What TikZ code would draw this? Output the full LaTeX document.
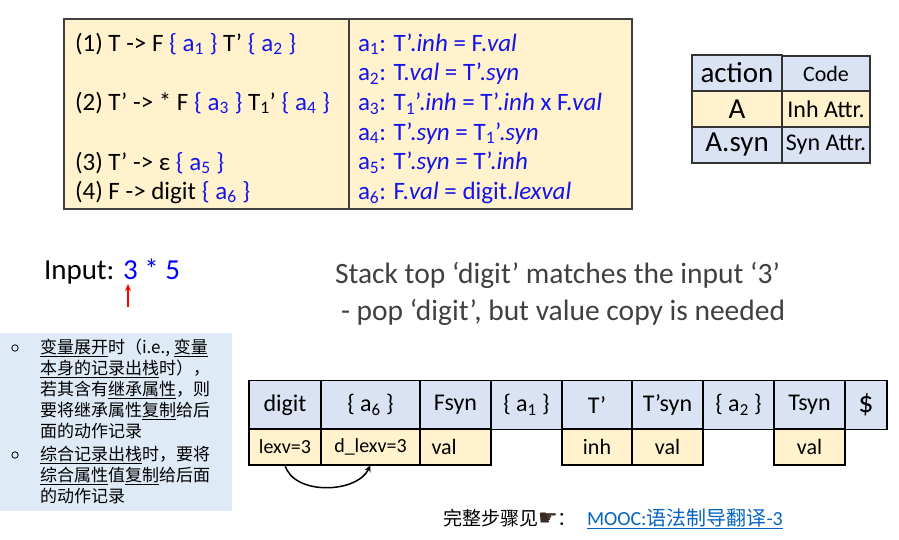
\documentclass[tikz,border=0pt]{standalone}
\usepackage{fontspec}
\setmainfont{Carlito}
\newfontfamily\cjk{Noto Sans CJK SC}
\newfontfamily\symb{DejaVu Sans}
\usetikzlibrary{arrows.meta}
\definecolor{cellblue}{HTML}{DAE3F3}
\definecolor{cellyellow}{HTML}{FFF2CC}
\definecolor{notebg}{HTML}{DEEAF6}
\definecolor{actblue}{RGB}{20,20,235}
\definecolor{linkblue}{HTML}{0563C1}
\definecolor{msggray}{HTML}{404040}
\definecolor{handbrown}{HTML}{3A2A22}
\newcommand\sz[2]{\fontsize{#1}{#2}\selectfont}
\newcommand\sub[1]{\textsubscript{#1}}
\newcommand\act[1]{\textcolor{actblue}{#1}}

\begin{document}
\begin{tikzpicture}[x=1pt, y=-1pt,
    every node/.style={inner sep=0pt, outer sep=0pt},
    rule/.style={anchor=base west, font=\sz{25}{30}},
    cell/.style={draw, line width=1.2pt, align=center},
    keycell/.style={cell, draw=black!80, minimum height=36pt},
    topcell/.style={cell, fill=cellblue, minimum height=49pt, font=\sz{24}{28}},
    botcell/.style={cell, fill=cellyellow, minimum height=36pt, font=\sz{22}{26}},
    note/.style={anchor=north west, align=left, font=\cjk\sz{17}{21}}]
  \useasboundingbox (0,0) rectangle (899,539);

  % grammar with actions
  \draw[line width=1.5pt, draw=black!75, fill=cellyellow] (64,19) rectangle (632,209);
  \draw[line width=1.2pt, draw=black!75] (349,19) -- (349,209);
  \node[rule] (r1) at (75,51)  {(1) T -> F \act{\{ a\sub{1} \}} T’ \act{\{ a\sub{2} \}}};
  \node[rule] (r2) at (75,110) {(2) T’ -> * F \act{\{ a\sub{3} \}} T\sub{1}’ \act{\{ a\sub{4} \}}};
  \node[rule] (r3) at (75,170) {(3) T’ -> ε \act{\{ a\sub{5} \}}};
  \node[rule] (r4) at (75,199) {(4) F -> digit \act{\{ a\sub{6} \}}};
  \foreach \i/\txt in {1/{T’.\textit{inh} = F.\textit{val}},
                       2/{T.\textit{val} = T’.\textit{syn}},
                       3/{T\sub{1}’.\textit{inh} = T’.\textit{inh} x F.\textit{val}},
                       4/{T’.\textit{syn} = T\sub{1}’.\textit{syn}},
                       5/{T’.\textit{syn} = T’.\textit{inh}},
                       6/{F.\textit{val} = digit.\textit{lexval}}}
    \node[rule, text=actblue] (a\i) at (358,{51+29.7*(\i-1)}) {a\sub{\i}: \txt};

  % legend
  \node[keycell, fill=cellblue, minimum width=90pt, font=\sz{29}{30}] (kact) at (737,73) {action};
  \node[keycell, fill=cellblue, minimum width=88pt, font=\sz{22}{24}] (kcode) at (826,74) {Code};
  \node[keycell, fill=cellyellow, minimum width=90pt, font=\sz{29}{30}] (ka) at (737,109) {A};
  \node[keycell, fill=cellyellow, minimum width=88pt, font=\sz{24}{26}] (kinh) at (826,109) {Inh Attr.};
  \node[keycell, fill=cellblue, minimum width=90pt, font=\sz{29}{30}] (kasyn) at (737,145) {A.syn};
  \node[keycell, fill=cellblue, minimum width=88pt, font=\sz{24}{26}] (ksyn) at (826,145) {Syn Attr.};

  % input and pointer
  \node[anchor=base west, font=\sz{29}{30}] (input) at (44,279) {Input: \textcolor{blue}{3 * 5}};
  \coordinate (ptrtail) at (128,307);
  \coordinate (ptrhead) at (128,284);
  \draw[red, line width=1.3pt, -{Stealth[length=7pt, width=6pt]}] (ptrtail) -- (ptrhead);

  \node[anchor=base west, font=\sz{29.5}{32}, text=msggray] (msg1) at (335,283) {Stack top ‘digit’ matches the input ‘3’};
  \node[anchor=base west, font=\sz{29.5}{32}, text=msggray] (msg2) at (341,320) {- pop ‘digit’, but value copy is needed};

  % notes
  \fill[notebg] (0,333) rectangle (232,511);
  \draw[line width=0.8pt] (15,348) circle (3.2) (15,455) circle (3.2);
  \node[note] (note1) at (40,339) {\underline{变量展开}时（i.e., \underline{变量}\\
    \underline{本身的记录出栈}时），\\
    若其含有\underline{继承属性}，则\\
    要将继承属性\underline{复制}给后\\
    面的动作记录};
  \node[note] (note2) at (40,446) {\underline{综合记录出栈}时，要将\\
    \underline{综合属性}值\underline{复制}给后面\\
    的动作记录};

  % parse stack
  \foreach \name/\xa/\xb/\txt in {tdigit/249/321/digit, ta6/321/420/{\{ a\sub{6} \}},
      tfsyn/420/491/Fsyn, ta1/491/562/{\{ a\sub{1} \}}, ttp/562/632/T’,
      ttpsyn/632/703/T’syn, ta2/703/774/{\{ a\sub{2} \}}, ttsyn/774/845/Tsyn,
      tend/845/887/{\sz{30}{30}\$}}
    \node[topcell, minimum width={(\xb-\xa)*1pt}] (\name) at ({(\xa+\xb)/2},405) {\txt};
  \node[botcell, minimum width=72pt, font=\sz{20}{24}] (blexv) at (285,447) {lexv=3};
  \node[botcell, minimum width=99pt, font=\sz{20}{24}] (bdlexv) at (370.5,447) {d\_lexv=3};
  \node[botcell, minimum width=71pt, text width=48pt, align=left] (bfval) at (455.5,447) {val};
  \node[botcell, minimum width=70pt] (btinh) at (597,447) {inh};
  \node[botcell, minimum width=71pt] (btval) at (667.5,447) {val};
  \node[botcell, minimum width=71pt] (bsval) at (809.5,447) {val};
  \draw[line width=1.5pt, -{Stealth[length=7pt, width=6pt]}] (blexv.south) to[out=-75, in=-115, looseness=0.95] (bdlexv.south);

  % link
  \node[anchor=base west, font=\cjk\sz{19}{22}] (seeall) at (443,525) {完整步骤见{\symb\sz{22}{22}\textcolor{handbrown}{☛}}：};
  \node[anchor=base west, font=\sz{20}{22}, text=linkblue] (mooc) at (587,525) {\underline{MOOC:{\cjk 语法制导翻译}-3}};
\end{tikzpicture}
\end{document}
